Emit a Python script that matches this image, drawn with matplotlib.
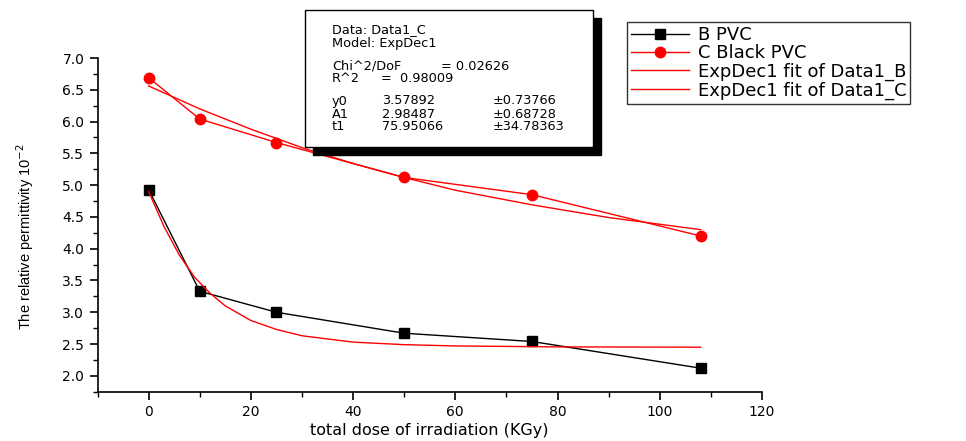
import numpy as np
import matplotlib
matplotlib.use('Agg')
import matplotlib.pyplot as plt
from matplotlib.patches import Rectangle

plt.rcParams['font.family'] = ['DejaVu Sans']

# measured points
dose = [0, 10, 25, 50, 75, 108]
b_pvc = [4.93, 3.33, 3.00, 2.67, 2.54, 2.12]
c_black_pvc = [6.69, 6.04, 5.67, 5.12, 4.85, 4.20]

# fit curves
fit_b_x = [0, 3, 6, 9, 12, 15, 20, 25, 30, 40, 50, 60, 80, 108]
fit_b_y = [4.90, 4.35, 3.90, 3.55, 3.30, 3.10, 2.87, 2.73, 2.63, 2.53, 2.49, 2.47, 2.455, 2.45]
fit_c_x = [0, 10, 20, 30, 40, 50, 60, 75, 90, 108]
fit_c_y = [6.56, 6.20, 5.88, 5.59, 5.34, 5.12, 4.92, 4.69, 4.49, 4.30]

W, H = 966, 441
fig = plt.figure(figsize=(W / 100, H / 100), dpi=100)
ax = fig.add_axes([97.5 / W, 1 - 391.7 / H, (762 - 97.5) / W, (391.7 - 58) / H])

ax.plot(dose, b_pvc, color='black', lw=1, marker='s', ms=6.5, label='B PVC')
ax.plot(dose, c_black_pvc, color='red', lw=1, marker='o', ms=7.5, label='C Black PVC')
ax.plot(fit_b_x, fit_b_y, color='red', lw=1, label='ExpDec1 fit of Data1_B')
ax.plot(fit_c_x, fit_c_y, color='red', lw=1, label='ExpDec1 fit of Data1_C')

ax.set_xlim(-10, 120)
ax.set_ylim(1.75, 7.0)
ax.set_xticks(np.arange(0, 121, 20))
ax.set_xticks(np.arange(-10, 121, 10), minor=True)
ax.set_yticks(np.arange(2.0, 7.01, 0.5))
ax.set_yticks(np.arange(1.75, 7.01, 0.25), minor=True)
ax.yaxis.set_major_formatter(matplotlib.ticker.FormatStrFormatter('%.1f'))
for s in ['top', 'right']:
    ax.spines[s].set_visible(False)
for s in ['left', 'bottom']:
    ax.spines[s].set_linewidth(1.2)
ax.tick_params(which='major', direction='out', length=6, width=1.2, labelsize=10)
ax.tick_params(which='minor', direction='out', length=3.5, width=1.0)

ax.set_xlabel('total dose of irradiation (KGy)', fontsize=11.5)
ax.xaxis.set_label_coords(0.499, -0.093)
ax.set_ylabel('The relative permittivity 10$^{-2}$', fontsize=10.5,
              family='Liberation Sans')
ax.yaxis.set_label_coords(-0.092, 0.465)

leg = ax.legend(loc='upper left', bbox_to_anchor=(627 / W, 1 - 22 / H),
                bbox_transform=fig.transFigure, borderaxespad=0,
                fancybox=False, edgecolor='black', fontsize=13,
                handlelength=3.2, handletextpad=0.5, labelspacing=0.02,
                borderpad=0.22)
leg.get_frame().set_linewidth(1.0)

# fit parameter box with shadow
bx0, by0, bx1, by1 = 305, 10, 593, 147
fig.patches.append(Rectangle(((bx0 + 8) / W, 1 - (by1 + 8) / H), (bx1 - bx0) / W, (by1 - by0) / H,
                             transform=fig.transFigure, facecolor='black', edgecolor='black', zorder=5))
fig.patches.append(Rectangle((bx0 / W, 1 - by1 / H), (bx1 - bx0) / W, (by1 - by0) / H,
                             transform=fig.transFigure, facecolor='white', edgecolor='black',
                             lw=1, zorder=6))

fs = 9.3
def t(x, y, s):
    fig.text(x / W, 1 - y / H, s, fontsize=fs, va='center', ha='left', zorder=7)

t(332, 30, 'Data: Data1_C')
t(332, 43, 'Model: ExpDec1')
t(332, 66, 'Chi^2/DoF')
t(441, 66, '= 0.02626')
t(332, 79, 'R^2')
t(381, 79, '=  0.98009')
t(332, 101, 'y0')
t(382, 101, '3.57892')
t(493, 101, '\u00b10.73766')
t(332, 114, 'A1')
t(382, 114, '2.98487')
t(493, 114, '\u00b10.68728')
t(332, 127, 't1')
t(382, 127, '75.95066')
t(493, 127, '\u00b134.78363')

fig.savefig('out.png', dpi=100)
